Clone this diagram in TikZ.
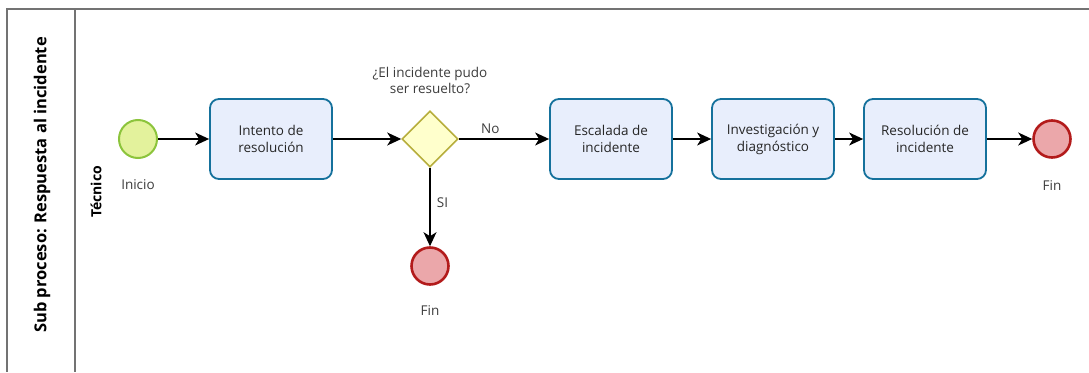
\documentclass[tikz,border=0pt]{standalone}
\usepackage{fontspec}
\setmainfont{Open Sans}
\usetikzlibrary{arrows.meta,shapes.geometric}
\definecolor{startfill}{HTML}{E3F29C}
\definecolor{startline}{HTML}{8CC43C}
\definecolor{taskfill}{HTML}{E8EEFC}
\definecolor{taskline}{HTML}{15719C}
\definecolor{gatefill}{HTML}{FFFFCC}
\definecolor{gateline}{HTML}{B7AE3C}
\definecolor{endfill}{HTML}{EBA7AA}
\definecolor{endline}{HTML}{B31B1B}
\definecolor{txt}{HTML}{262626}
\tikzstyle{startev} = [draw=startline, fill=startfill, shape=circle, line width=2pt, minimum size=38pt, inner sep=0pt]
\tikzstyle{endev} = [draw=endline, fill=endfill, shape=circle, line width=2.6pt, minimum size=37pt, inner sep=0pt]
\tikzstyle{task} = [draw=taskline, fill=taskfill, rounded corners=9pt, line width=1.8pt, minimum width=122pt, minimum height=80pt, align=center, text=txt, font=\fontsize{13.5}{17}\selectfont]
\tikzstyle{gate} = [draw=gateline, fill=gatefill, shape=diamond, line width=1.6pt, minimum size=56pt, inner sep=0pt]
\tikzstyle{lbl} = [text=txt!90, font=\fontsize{13.5}{16}\selectfont, align=center]
\tikzstyle{flow} = [-{Stealth[length=14pt,width=13pt,inset=4pt]}, line width=1.2pt]

\begin{document}
\begin{tikzpicture}[x=1pt,y=-1pt]
    \useasboundingbox (0,0) rectangle (1089,372);
    % pool and lane
    \draw [line width=1.6pt, black!55] (1089,9) -- (7,9) -- (7,372);
    \draw [line width=1.6pt, black!55] (75,9) -- (75,372);
    \node [rotate=90, font=\bfseries\fontsize{16.5}{18}\selectfont] (pool) at (42,185) {Sub proceso: Respuesta al incidente};
    \node [rotate=90, font=\bfseries\fontsize{14}{15}\selectfont] (lane) at (96,192) {Técnico};
    % events, tasks and gateway
    \draw (138,139) node[startev] (ini) {};
    \draw (271,139) node[task] (t1) {Intento de\\resolución};
    \draw (430,139) node[gate] (g) {};
    \draw (430,266) node[endev] (fin1) {};
    \draw (611,139) node[task] (t2) {Escalada de\\incidente};
    \draw (773,139) node[task] (t3) {Investigación y\\diagnóstico};
    \draw (925,139) node[task] (t4) {Resolución de\\incidente};
    \draw (1052,139) node[endev] (fin2) {};
    % labels
    \node [lbl] (lini) at (138,185) {Inicio};
    \node [lbl] (lg) at (430,80) {¿El incidente pudo\\ser resuelto?};
    \node [lbl] (lfin1) at (430,311) {Fin};
    \node [lbl] (lfin2) at (1052,186) {Fin};
    % flows
    \draw [flow] (ini) -- (t1);
    \draw [flow] (t1) -- (g);
    \draw [flow] (g) -- node [lbl, pos=0.35, above=1pt] {No} (t2);
    \draw [flow] (g) -- node [lbl, pos=0.45, right=3pt] {SI} (fin1);
    \draw [flow] (t2) -- (t3);
    \draw [flow] (t3) -- (t4);
    \draw [flow] (t4) -- (fin2);
\end{tikzpicture}
\end{document}
